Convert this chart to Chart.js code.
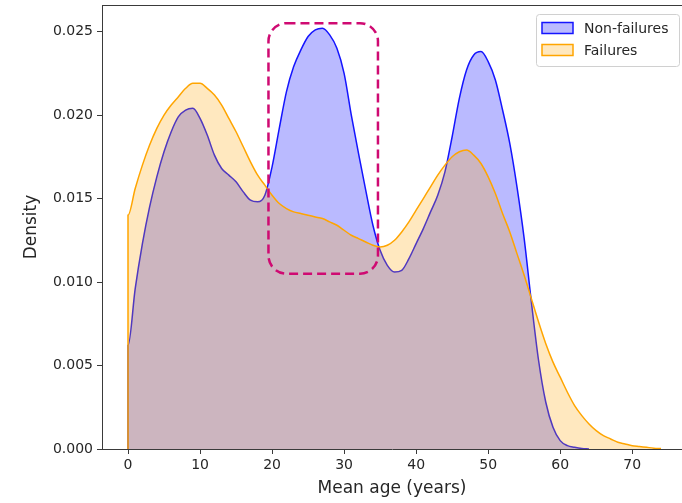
<!DOCTYPE html>
<html>
<head>
<meta charset="utf-8">
<script src="https://cdn.jsdelivr.net/npm/chart.js@4.4.0/dist/chart.umd.min.js"></script>
<style>
  html, body { margin: 0; padding: 0; background: #fff; }
  #wrap { width: 682px; height: 503px; }
</style>
</head>
<body>
<div id="wrap"><canvas id="chart"></canvas></div>
<script>
// KDE curves (density per year of mean age)
const ageNonFail = [0, 1, 2, 3, 4, 5, 6, 7, 8, 9, 10, 11, 12, 13, 14, 15, 16, 17, 18, 19,
  20, 21, 22, 23, 24, 25, 26, 27, 28, 29, 30, 31, 32, 33, 34, 35, 36, 37, 38, 39,
  40, 41, 42, 43, 44, 45, 46, 47, 48, 49, 50, 51, 52, 53, 54, 55, 56, 57, 58, 59,
  60, 61, 62, 63, 64];
const densityNonFail = [0.0062, 0.0096, 0.0123, 0.0145, 0.0163, 0.0178, 0.0190, 0.0199, 0.0203, 0.0204,
  0.0198, 0.0188, 0.0176, 0.0168, 0.0164, 0.0160, 0.0154, 0.0149, 0.0148, 0.0152,
  0.0169, 0.0192, 0.0214, 0.0229, 0.0239, 0.0247, 0.0251, 0.0252, 0.0248, 0.0240,
  0.0225, 0.0200, 0.0177, 0.0155, 0.0134, 0.0119, 0.0110, 0.0106, 0.0107, 0.0114,
  0.0123, 0.0132, 0.0142, 0.0152, 0.0166, 0.0187, 0.0210, 0.0227, 0.0236, 0.0238,
  0.0232, 0.0221, 0.0203, 0.0183, 0.0157, 0.0126, 0.0088, 0.0053, 0.0028, 0.0013,
  0.0005, 0.0002, 0.0001, 0.00003, 0];

const ageFail = [0, 1, 2, 3, 4, 5, 6, 7, 8, 9, 10, 11, 12, 13, 14, 15, 16, 17, 18, 19,
  20, 21, 22, 23, 24, 25, 26, 27, 28, 29, 30, 31, 32, 33, 34, 35, 36, 37, 38, 39,
  40, 41, 42, 43, 44, 45, 46, 47, 48, 49, 50, 51, 52, 53, 54, 55, 56, 57, 58, 59,
  60, 61, 62, 63, 64, 65, 66, 67, 68, 69, 70, 71, 72, 73, 74];
const densityFail = [0.0140, 0.0156, 0.0170, 0.0182, 0.0192, 0.0200, 0.0206, 0.0211, 0.0216, 0.0219,
  0.0219, 0.0216, 0.0212, 0.0206, 0.0198, 0.0190, 0.0181, 0.0172, 0.0164, 0.0158,
  0.0152, 0.0147, 0.0144, 0.0142, 0.0141, 0.0140, 0.0139, 0.0138, 0.0136, 0.0134,
  0.0131, 0.0128, 0.0126, 0.0124, 0.0122, 0.0121, 0.0122, 0.0125, 0.0130, 0.0136,
  0.0143, 0.0150, 0.0157, 0.0164, 0.0170, 0.0175, 0.0178, 0.0179, 0.0176, 0.0171,
  0.0163, 0.0153, 0.0141, 0.0130, 0.0117, 0.0104, 0.0090, 0.0076, 0.0063, 0.0052,
  0.0043, 0.0034, 0.0026, 0.0020, 0.0015, 0.0011, 0.0008, 0.0006, 0.0004, 0.0003,
  0.0002, 0.00015, 0.0001, 0.00005, 0.00003];

const seriesLabels = ['Non-failures', 'Failures'];
const xTicks = [0, 10, 20, 30, 40, 50, 60, 70];
const yTicks = [0, 0.005, 0.010, 0.015, 0.020, 0.025];

// highlighted region (data coords)
const highlight = { xMin: 19.5, xMax: 34.7, yMin: 0.0105, yMax: 0.0255 };

const FONT = 'DejaVu Sans';
const TEXT = '#262626';
const AXIS = '#3a3a3a';

function toPoints(xs, ys) {
  // start at the baseline so the fill edge closes at x = 0
  return [{ x: xs[0], y: 0 }].concat(xs.map((x, i) => ({ x: x, y: ys[i] })));
}

const extras = {
  id: 'extras',
  afterDraw(chart) {
    const ctx = chart.ctx;
    const a = chart.chartArea;
    const xs = chart.scales.x, ys = chart.scales.y;

    // top spine
    ctx.save();
    ctx.strokeStyle = AXIS;
    ctx.lineWidth = 1;
    ctx.beginPath();
    ctx.moveTo(a.left, a.top + 0.5);
    ctx.lineTo(a.right, a.top + 0.5);
    ctx.stroke();
    ctx.restore();

    // dashed rounded box
    const l = xs.getPixelForValue(highlight.xMin), r = xs.getPixelForValue(highlight.xMax);
    const t = ys.getPixelForValue(highlight.yMax), b = ys.getPixelForValue(highlight.yMin);
    ctx.save();
    ctx.strokeStyle = '#cf0a72';
    ctx.lineWidth = 2.5;
    ctx.setLineDash([9, 5]);
    ctx.beginPath();
    ctx.roundRect(l, t, r - l, b - t, 18);
    ctx.stroke();
    ctx.restore();

    // legend
    const lx = 536, ly = 14, lw = 143, lh = 52;
    ctx.save();
    ctx.fillStyle = 'rgba(255,255,255,0.85)';
    ctx.strokeStyle = '#d0d0d0';
    ctx.lineWidth = 1;
    ctx.beginPath();
    ctx.roundRect(lx + 0.5, ly + 0.5, lw, lh, 3);
    ctx.fill();
    ctx.stroke();
    ctx.font = '14px "' + FONT + '"';
    ctx.textBaseline = 'middle';
    chart.data.datasets.forEach((ds, i) => {
      const cy = ly + 14 + i * 22;
      ctx.fillStyle = '#fff';
      ctx.fillRect(542, cy - 5.5, 31, 11);
      ctx.fillStyle = ds.backgroundColor;
      ctx.fillRect(542, cy - 5.5, 31, 11);
      ctx.strokeStyle = ds.borderColor;
      ctx.lineWidth = 1.5;
      ctx.strokeRect(542, cy - 5.5, 31, 11);
      ctx.fillStyle = TEXT;
      ctx.fillText(ds.label, 584, cy + 1);
    });
    ctx.restore();
  }
};

new Chart(document.getElementById('chart'), {
  type: 'line',
  data: {
    datasets: [
      {
        label: seriesLabels[0],
        data: toPoints(ageNonFail, densityNonFail),
        borderColor: 'rgb(20,20,255)',
        backgroundColor: 'rgba(0,0,255,0.27)',
        borderWidth: 1.5,
        fill: 'origin',
        order: 1
      },
      {
        label: seriesLabels[1],
        data: toPoints(ageFail, densityFail),
        borderColor: 'rgb(255,165,0)',
        backgroundColor: 'rgba(255,165,0,0.25)',
        borderWidth: 1.5,
        fill: 'origin',
        order: 0
      }
    ]
  },
  options: {
    responsive: true,
    maintainAspectRatio: false,
    animation: false,
    elements: {
      point: { radius: 0, hoverRadius: 0 },
      line: { cubicInterpolationMode: 'monotone' }
    },
    layout: { padding: { top: 5, right: 0, left: 0, bottom: 0 } },
    plugins: { legend: { display: false }, tooltip: { enabled: false } },
    scales: {
      x: {
        type: 'linear',
        min: -3.61,
        max: 76.91,
        afterBuildTicks: s => { s.ticks = xTicks.map(v => ({ value: v })); },
        afterFit: s => { s.height = 54; s.paddingLeft = 0; s.paddingRight = 0; },
        ticks: {
          color: TEXT, font: { family: FONT, size: 14 }, padding: 3,
          maxRotation: 0, autoSkip: false
        },
        grid: { drawOnChartArea: false, tickLength: 5, color: AXIS },
        border: { color: AXIS, width: 1, z: 1 },
        title: {
          display: true, text: 'Mean age (years)', color: TEXT,
          font: { family: FONT, size: 17 }, padding: { top: 0, bottom: 4 }
        }
      },
      y: {
        min: 0,
        max: 0.02659,
        afterBuildTicks: s => { s.ticks = yTicks.map(v => ({ value: v })); },
        afterFit: s => { s.width = 102; s.paddingTop = 0; s.paddingBottom = 0; },
        ticks: {
          color: TEXT, font: { family: FONT, size: 14 }, padding: 4,
          callback: v => v.toFixed(3)
        },
        grid: { drawOnChartArea: false, tickLength: 5, color: AXIS },
        border: { color: AXIS, width: 1, z: 1 },
        title: {
          display: true, text: 'Density', color: TEXT,
          font: { family: FONT, size: 17 }, padding: { top: 21, bottom: 0 }
        }
      }
    }
  },
  plugins: [extras]
});
</script>
</body>
</html>
